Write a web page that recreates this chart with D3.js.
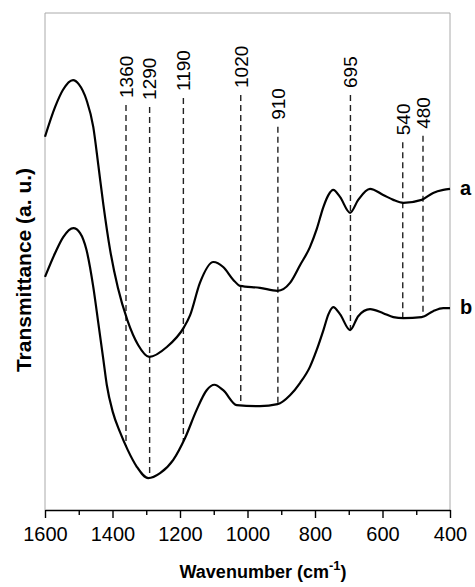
<!DOCTYPE html>
<html>
<head>
<meta charset="utf-8">
<script src="https://cdn.jsdelivr.net/npm/d3@7"></script>
<style>
  body { margin: 0; background: #fff; }
  text { font-family: Arial, "Liberation Sans", sans-serif; fill: #000; }
</style>
</head>
<body>
<div id="chart"></div>
<script>
// Spectrum a: wavenumber (cm-1) and transmittance (a.u.)
var wavenumbersA = [1600, 1570, 1547, 1517, 1500, 1477, 1457, 1442, 1427, 1407, 1384, 1356, 1324, 1291,
    1239, 1188, 1170, 1141, 1101, 1072, 1042, 1022, 963, 911, 874, 844, 815, 795, 775, 760, 746, 726,
    696, 672, 637, 598, 568, 538, 484, 450, 420, 400];
var transmittanceA = [75.1, 81.1, 84.5, 86.5, 85.7, 82.5, 77.1, 69.4, 61.4, 52.3, 44.7, 38.2, 33.2, 30.8,
    32.8, 36.8, 39.2, 45.7, 49.9, 48.9, 46.3, 45.1, 44.7, 44.1, 45.7, 49.3, 52.9, 56.5, 61.0, 63.4, 64.4, 63.0,
    59.8, 62.4, 64.6, 63.4, 62.4, 61.8, 62.4, 63.8, 64.4, 64.6];

// Spectrum b
var wavenumbersB = [1600, 1570, 1546, 1516, 1496, 1477, 1457, 1442, 1427, 1417, 1399, 1378, 1355, 1328, 1294,
    1259, 1220, 1185, 1151, 1121, 1098, 1072, 1032, 963, 911, 874, 844, 815, 795, 775, 760, 746, 726,
    696, 672, 637, 598, 568, 538, 484, 450, 420, 400];
var transmittanceB = [46.9, 51.7, 54.9, 56.7, 55.7, 52.3, 44.9, 37.6, 30.2, 25.2, 19.7, 15.7, 12.1, 8.7, 6.4,
    7.4, 10.1, 14.5, 20.1, 24.1, 25.2, 24.1, 21.1, 20.9, 21.3, 23.1, 25.6, 28.8, 32.2, 36.2, 39.4, 40.8, 39.4,
    36.2, 39.0, 40.4, 39.6, 38.8, 38.6, 38.8, 40.0, 40.6, 40.6];

// marked bands and the height where each dashed guide starts (a.u.)
var bands = [1360, 1290, 1190, 1020, 910, 695, 540, 480];
var bandTops = [81.5, 81.1, 82.9, 83.5, 77.1, 83.5, 74.0, 75.3];

var majorTicks = [1600, 1400, 1200, 1000, 800, 600, 400];
var minorTicks = [1500, 1300, 1100, 900, 700, 500];
var seriesNames = ["a", "b"];

var W = 475, H = 587;
var margin = {top: 13, right: 25, bottom: 77, left: 45};
var w = W - margin.left - margin.right;
var h = H - margin.top - margin.bottom;

var svg = d3.select("#chart")
    .append("svg")
    .attr("width", W)
    .attr("height", H);

var g = svg.append("g")
    .attr("transform", "translate(" + margin.left + "," + margin.top + ")");

var x = d3.scaleLinear().domain([1600, 400]).range([0, w]);
var y = d3.scaleLinear().domain([0, 100]).range([h, 0]);

// light frame on left, top and right
g.append("path")
    .attr("d", "M0," + h + "V0H" + w + "V" + h)
    .attr("fill", "none")
    .attr("stroke", "#aaa")
    .attr("stroke-width", 1);

// linear lookup on spectrum b so the guides stop on it
function valueAt(wns, vals, wn) {
    for (var i = 0; i < wns.length - 1; i++) {
        if (wn <= wns[i] && wn >= wns[i + 1]) {
            var t = (wns[i] - wn) / (wns[i] - wns[i + 1]);
            return vals[i] + t * (vals[i + 1] - vals[i]);
        }
    }
    return vals[vals.length - 1];
}

var guides = bands.map(function (b, i) {
    return {wn: b, top: bandTops[i], bottom: valueAt(wavenumbersB, transmittanceB, b)};
});

g.selectAll("line.guide")
    .data(guides)
    .enter()
    .append("line")
    .attr("class", "guide")
    .attr("x1", function (d) { return x(d.wn); })
    .attr("x2", function (d) { return x(d.wn); })
    .attr("y1", function (d) { return y(d.top); })
    .attr("y2", function (d) { return y(d.bottom); })
    .attr("stroke", "#222")
    .attr("stroke-width", 1.4)
    .attr("stroke-dasharray", "6,4");

g.selectAll("text.band")
    .data(guides)
    .enter()
    .append("text")
    .attr("class", "band")
    .attr("transform", function (d) {
        return "translate(" + x(d.wn) + "," + (y(d.top) - 7) + ") rotate(-90)";
    })
    .attr("dy", "0.36em")
    .style("font-size", "19px")
    .text(function (d) { return d.wn; });

// spectra
var line = d3.line()
    .x(function (d) { return x(d[0]); })
    .y(function (d) { return y(d[1]); })
    .curve(d3.curveMonotoneX);

var spectra = [
    d3.zip(wavenumbersA, transmittanceA),
    d3.zip(wavenumbersB, transmittanceB)
];

g.selectAll("path.spectrum")
    .data(spectra)
    .enter()
    .append("path")
    .attr("class", "spectrum")
    .attr("d", line)
    .attr("fill", "none")
    .attr("stroke", "#000")
    .attr("stroke-width", 2.2);

g.selectAll("text.name")
    .data(spectra)
    .enter()
    .append("text")
    .attr("class", "name")
    .attr("x", function (d) { return x(d[d.length - 1][0]) + 10; })
    .attr("y", function (d) { return y(d[d.length - 1][1]) + 6; })
    .style("font-size", "20px")
    .style("font-weight", "bold")
    .text(function (d, i) { return seriesNames[i]; });

// bottom axis
var xAxis = g.append("g")
    .attr("transform", "translate(0," + h + ")")
    .call(d3.axisBottom(x).tickValues(majorTicks).tickSize(8).tickSizeOuter(0).tickPadding(9)
        .tickFormat(d3.format("d")));
xAxis.selectAll("text").style("font-size", "20px").attr("fill", "#000");

var minor = g.append("g")
    .attr("transform", "translate(0," + h + ")")
    .call(d3.axisBottom(x).tickValues(minorTicks).tickSize(5).tickSizeOuter(0).tickFormat(""));
minor.select(".domain").remove();

g.selectAll(".domain").attr("stroke", "#000").attr("stroke-width", 1.6);
g.selectAll(".tick line").attr("stroke", "#000").attr("stroke-width", 1.4);

// axis titles
var xt = svg.append("text")
    .attr("x", 263)
    .attr("y", 578)
    .attr("text-anchor", "middle")
    .style("font-size", "18px")
    .style("font-weight", "bold");
xt.append("tspan").text("Wavenumber (cm");
xt.append("tspan").attr("dy", -8).style("font-size", "13px").text("-1");
xt.append("tspan").attr("dy", 8).text(")");

svg.append("text")
    .attr("transform", "translate(31,270) rotate(-90)")
    .attr("text-anchor", "middle")
    .style("font-size", "21px")
    .style("font-weight", "bold")
    .text("Transmittance (a. u.)");
</script>
</body>
</html>
